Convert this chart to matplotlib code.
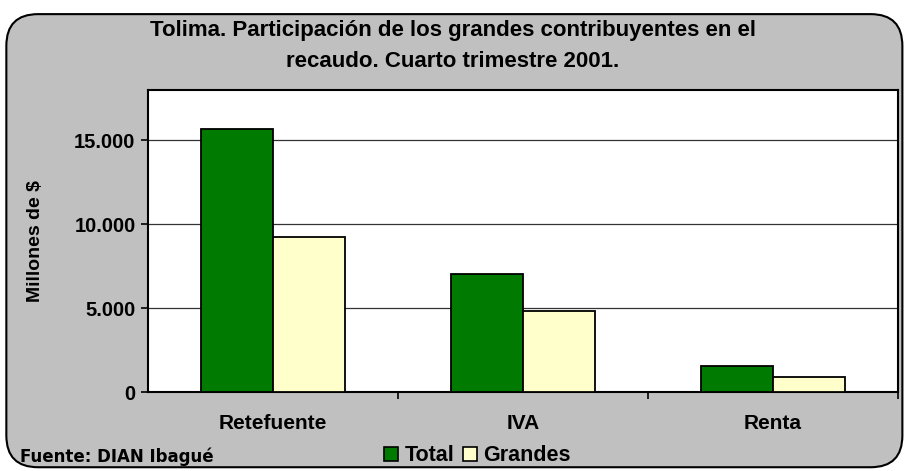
import numpy as np
import matplotlib
matplotlib.use("Agg")
import matplotlib.pyplot as plt
from matplotlib.patches import FancyBboxPatch, Patch
from matplotlib.ticker import FuncFormatter

# Data
categories = ["Retefuente", "IVA", "Renta"]
total = [15670, 7050, 1560]
grandes = [9260, 4830, 880]

plt.rcParams['font.family'] = ['Liberation Sans', 'DejaVu Sans']
plt.rcParams['font.weight'] = 'bold'

fig = plt.figure(figsize=(9.06, 4.71), dpi=100)
fig.patch.set_facecolor('white')

# Rounded gray frame behind the chart
frame = FancyBboxPatch((0.007, 0.008), 0.989, 0.962,
                       boxstyle="round,pad=0,rounding_size=0.035",
                       transform=fig.transFigure, facecolor='#C0C0C0',
                       edgecolor='black', linewidth=1.5, zorder=-1,
                       mutation_aspect=906 / 471)
fig.patches.append(frame)

ax = fig.add_axes([0.1634, 0.1677, 0.8278, 0.6412])
ax.set_facecolor('white')

x = np.arange(len(categories))
w = 0.288
ax.bar(x - w / 2, total, w, color='#007A00', edgecolor='black', linewidth=1.3,
       label='Total', zorder=3)
ax.bar(x + w / 2, grandes, w, color='#FFFFCC', edgecolor='black', linewidth=1.3,
       label='Grandes', zorder=3)

ax.set_xlim(-0.5, 2.5)
ax.set_ylim(0, 18000)
ax.set_yticks([0, 5000, 10000, 15000])
ax.yaxis.set_major_formatter(FuncFormatter(lambda v, p: f"{int(v):,}".replace(",", ".")))
ax.grid(axis='y', color='#333333', linewidth=0.9, zorder=1)
ax.set_axisbelow(True)

ax.set_xticks(x)
ax.set_xticklabels(categories, fontsize=15, fontweight='bold')
ax.set_xticks([0.5, 1.5, 2.5], minor=True)
ax.tick_params(axis='x', which='major', length=0, pad=16)
ax.tick_params(axis='x', which='minor', length=5, width=1.2, direction='out')
ax.tick_params(axis='y', length=5, width=1.2, direction='out', labelsize=14.5, pad=4)
for lbl in ax.get_yticklabels():
    lbl.set_fontweight('bold')

for side in ['left', 'bottom', 'top', 'right']:
    ax.spines[side].set_linewidth(1.5)
    ax.spines[side].set_color('black')

ax.set_ylabel("Millones de $", fontsize=14, fontweight='bold')
ax.yaxis.set_label_coords(-0.139, 0.50)

fig.text(0.5, 0.902, "Tolima. Participación de los grandes contribuyentes en el\n"
         "recaudo. Cuarto trimestre 2001.", ha='center', va='center',
         fontsize=16, fontweight='bold', linespacing=1.6)

fig.text(0.022, 0.031, "Fuente: DIAN Ibagué", fontsize=12, fontweight='bold',
         va='center', family=['DejaVu Sans'])

handles = [Patch(facecolor='#007A00', edgecolor='black', linewidth=1.2),
           Patch(facecolor='#FFFFCC', edgecolor='black', linewidth=1.2)]
fig.legend(handles, ['Total', 'Grandes'], loc='center', bbox_to_anchor=(0.527, 0.032),
           ncol=2, frameon=False, handlelength=0.65, handleheight=0.65,
           handletextpad=0.3, columnspacing=0.4, prop={'weight': 'bold', 'size': 15.5})

fig.savefig("out.png", dpi=100)
